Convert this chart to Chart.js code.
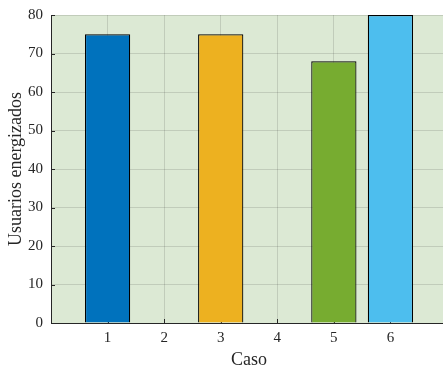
<!DOCTYPE html>
<html>
<head>
<meta charset="utf-8">
<script src="https://cdn.jsdelivr.net/npm/chart.js@4/dist/chart.umd.min.js"></script>
<style>
html,body{margin:0;padding:0;background:#fff;overflow:hidden;width:443px;height:369px;}
#wrap{width:447px;height:369px;}
</style>
</head>
<body>
<div id="wrap"><canvas id="c" width="447" height="369"></canvas></div>
<script>
// ---- data ----
const categories = [1, 2, 3, 4, 5, 6];
const values = [75, 0, 75, 0, 68, 80];
const yTicks = [0, 10, 20, 30, 40, 50, 60, 70, 80];
const xTitle = 'Caso';
const yTitle = 'Usuarios energizados';
// ---- styles ----
const barColors = ['#0072BD', '#D95319', '#EDB120', '#7E2F8E', '#77AC30', '#4DBEEE'];
const FONT = '"Liberation Serif", "Times New Roman", serif';
const AXIS = '#262626';

const bgPlugin = {
  id: 'bg',
  beforeDraw(chart) {
    const {ctx, chartArea: a} = chart;
    ctx.save();
    ctx.fillStyle = '#dce9d4';
    ctx.fillRect(a.left, a.top, a.right - a.left, a.bottom - a.top);
    ctx.restore();
  }
};
const tickPlugin = {
  id: 'inticks',
  beforeDatasetsDraw(chart) {
    const {ctx, chartArea: a, scales} = chart;
    ctx.save();
    ctx.strokeStyle = AXIS;
    ctx.lineWidth = 1;
    ctx.beginPath();
    yTicks.forEach(v => {
      const y = Math.round(scales.y.getPixelForValue(v)) + 0.5;
      ctx.moveTo(a.left, y); ctx.lineTo(a.left + 4, y);
    });
    categories.forEach(v => {
      const x = Math.round(scales.x.getPixelForValue(v)) + 0.5;
      ctx.moveTo(x, a.bottom); ctx.lineTo(x, a.bottom - 4);
    });
    ctx.stroke();
    ctx.restore();
  }
};

new Chart(document.getElementById('c'), {
  type: 'bar',
  data: {
    datasets: [{
      data: categories.map((c, i) => ({x: c, y: values[i]})),
      backgroundColor: barColors,
      borderColor: '#000',
      borderWidth: 1.2,
      barPercentage: 0.8,
      categoryPercentage: 1.0
    }]
  },
  options: {
    responsive: false,
    animation: false,
    devicePixelRatio: 1,
    layout: {padding: {top: 15, right: 0, left: 0, bottom: 0}},
    plugins: {legend: {display: false}, tooltip: {enabled: false}},
    scales: {
      x: {
        type: 'linear',
        offset: false,
        min: 0, max: 7,
        afterFit(s) { s.height = 46; },
        afterBuildTicks(s) { s.ticks = [0,1,2,3,4,5,6,7].map(v => ({value: v})); },
        ticks: {
          autoSkip: false,
          maxRotation: 0,
          padding: 0,
          color: AXIS,
          font: {family: FONT, size: 15, lineHeight: 2},
          callback: v => (categories.includes(v) ? String(v) : '')
        },
        grid: {color: 'rgba(38,38,38,0.15)', drawTicks: false, offset: false},
        border: {display: true, color: AXIS, width: 1},
        title: {display: true, text: xTitle, color: AXIS, font: {family: FONT, size: 18, lineHeight: 1}, padding: {top: 0, bottom: 0}}
      },
      y: {
        min: 0, max: 80,
        afterFit(s) { s.width = 51; },
        afterBuildTicks(s) { s.ticks = yTicks.map(v => ({value: v})); },
        ticks: {
          padding: 8,
          color: AXIS,
          font: {family: FONT, size: 15, lineHeight: 0.5}
        },
        grid: {color: 'rgba(38,38,38,0.15)', drawTicks: false},
        border: {display: true, color: AXIS, width: 1},
        title: {display: true, text: yTitle, color: AXIS, font: {family: FONT, size: 18, lineHeight: 1}, padding: {top: 7, bottom: 0}}
      }
    }
  },
  plugins: [bgPlugin, tickPlugin]
});
</script>
</body>
</html>
